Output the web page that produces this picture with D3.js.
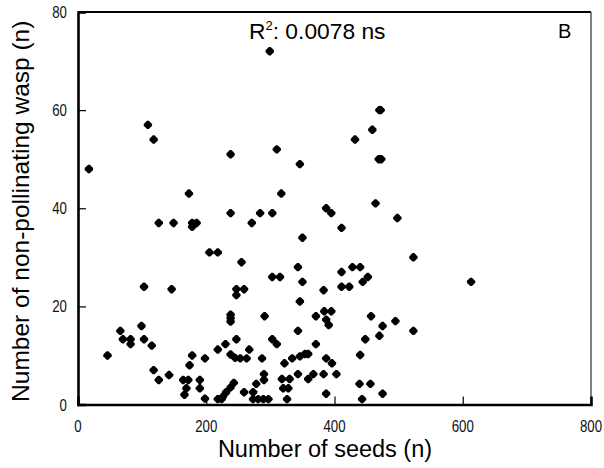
<!DOCTYPE html>
<html>
<head>
<meta charset="utf-8">
<script src="https://cdn.jsdelivr.net/npm/d3@7/dist/d3.min.js"></script>
<style>
html,body{margin:0;padding:0;background:#fff;}
svg{display:block;}
</style>
</head>
<body>
<script>
// Number of seeds (x) and number of non-pollinating wasps (y)
const seeds = [17,109,118,238,299,470,472,459,432,310,469,473,346,173,317,464,387,395,238,284,
  303,498,126,149,178,185,178,271,411,205,218,350,255,523,343,428,440,411,303,315,
  452,350,444,613,103,411,423,146,247,259,247,383,346,238,238,238,291,371,384,395,
  387,391,457,495,475,470,523,343,66,99,70,82,82,103,115,230,247,303,310,371,
  448,218,267,46,178,238,245,253,263,287,198,322,334,346,354,359,387,396,440,174,
  118,126,142,164,172,190,169,166,190,198,218,224,226,231,238,243,259,273,273,281,
  289,297,278,290,290,318,330,320,328,326,343,359,367,383,403,439,456,475,387,443];
const wasps = [48,57,54,51,72,60,60,56,54,52,50,50,49,43,43,41,40,39,39,39,
  39,38,37,37,37,37,36.2,37,36,31,31,34,29,30,28,28,28,27,26,26,
  26,25,25,25,24,24,24,23.5,23.5,23.5,22.3,23.3,21,18.3,17.6,16.9,18,18,19,19,
  17.3,16.2,18,17,16,14,15,15,15,16,13.3,13.3,12.3,13.3,12,12.3,13.3,13.3,12.3,12.3,
  13.3,11.2,11.2,10,10,10.2,9.5,9.4,9.4,9.4,9.4,8.4,9.4,9.8,10.3,10.3,9.4,8.4,10.1,8,
  7,5,6,5,5,5,3.3,2,3.3,1.2,1.1,1.1,1.6,2.5,3.5,4.4,2.5,2.5,1.1,1.1,
  1.1,1.1,4.2,6.2,5,5.2,5.2,3.3,3.3,1.1,6.2,5.2,6.2,6.2,6.2,4.2,4.2,2.2,2.2,1.1];

const xTicks = [0,200,400,600,800];
const yTicks = [0,20,40,60,80];
const xLabelTicks = [0,200,400,600,800];
const yLabelTicks = [0,20,40,60,80];

const W = 604, H = 468;
const L = 78, R = 591, T = 12, B = 404.5;

const svg = d3.select("body").append("svg").attr("width", W).attr("height", H);

const x = d3.scaleLinear().domain([0,800]).range([L,R]);
const y = d3.scaleLinear().domain([0,80]).range([B,T]);

// frame: top and right
svg.append("line").attr("x1",L).attr("x2",R).attr("y1",T).attr("y2",T)
  .attr("stroke","#000").attr("stroke-width",2);
svg.append("line").attr("x1",R).attr("x2",R).attr("y1",T).attr("y2",B)
  .attr("stroke","#555").attr("stroke-width",1.5);

// axes (ticks pointing inward)
const xAxis = d3.axisTop(x).tickValues(xTicks).tickSize(8).tickFormat("");
const yAxis = d3.axisRight(y).tickValues(yTicks).tickSize(8).tickFormat("");
const gx = svg.append("g").attr("transform",`translate(0,${B})`).call(xAxis);
const gy = svg.append("g").attr("transform",`translate(${L},0)`).call(yAxis);
[gx,gy].forEach(g=>{
  g.select(".domain").attr("stroke","#000").attr("stroke-width",2.6);
  g.selectAll(".tick line").attr("stroke","#000").attr("stroke-width",1.2);
});
gx.selectAll(".tick").filter(d=>d===0||d===800).select("line").remove();
gy.selectAll(".tick").filter(d=>d===0||d===80).select("line").remove();

// tick labels (narrow look)
const font = "'Liberation Sans',Arial,sans-serif";
svg.append("g").selectAll("text").data(xLabelTicks).join("text")
  .attr("transform",d=>`translate(${x(d)},432) scale(0.78,1)`)
  .attr("text-anchor","middle")
  .attr("font-family",font).attr("font-size",17).attr("fill","#111")
  .text(d=>d);
svg.append("g").selectAll("text").data(yLabelTicks).join("text")
  .attr("transform",d=>`translate(67,${y(d)+6}) scale(0.78,1)`)
  .attr("text-anchor","end")
  .attr("font-family",font).attr("font-size",17).attr("fill","#111")
  .text(d=>d);

// points
const pts = seeds.map((s,i)=>({s, w:wasps[i]}));
const mk = "M-4.2,-0.9 L-0.9,-4.2 L0.9,-4.2 L4.2,-0.9 L4.2,0.9 L0.9,4.2 L-0.9,4.2 L-4.2,0.9Z";
svg.append("g").selectAll("path").data(pts).join("path")
  .attr("d",mk)
  .attr("transform",d=>`translate(${x(d.s)},${y(d.w)})`)
  .attr("fill","#000");

// titles
svg.append("text").attr("x",325).attr("y",457).attr("text-anchor","middle")
  .attr("font-family",font).attr("font-size",23.5).attr("fill","#000")
  .text("Number of seeds (n)");
svg.append("text").attr("transform",`translate(29,${(T+B)/2+3}) rotate(-90)`)
  .attr("text-anchor","middle")
  .attr("font-family",font).attr("font-size",24.5).attr("fill","#000")
  .text("Number of non-pollinating wasp (n)");

// annotation
const ann = svg.append("text").attr("x",249).attr("y",39)
  .attr("font-family",font).attr("font-size",22.8).attr("fill","#000");
ann.append("tspan").text("R");
ann.append("tspan").attr("font-size",13).attr("dy",-9).text("2");
ann.append("tspan").attr("dy",9).text(": 0.0078 ns");

svg.append("text").attr("x",558).attr("y",38)
  .attr("font-family",font).attr("font-size",20).attr("fill","#000")
  .text("B");
</script>
</body>
</html>
